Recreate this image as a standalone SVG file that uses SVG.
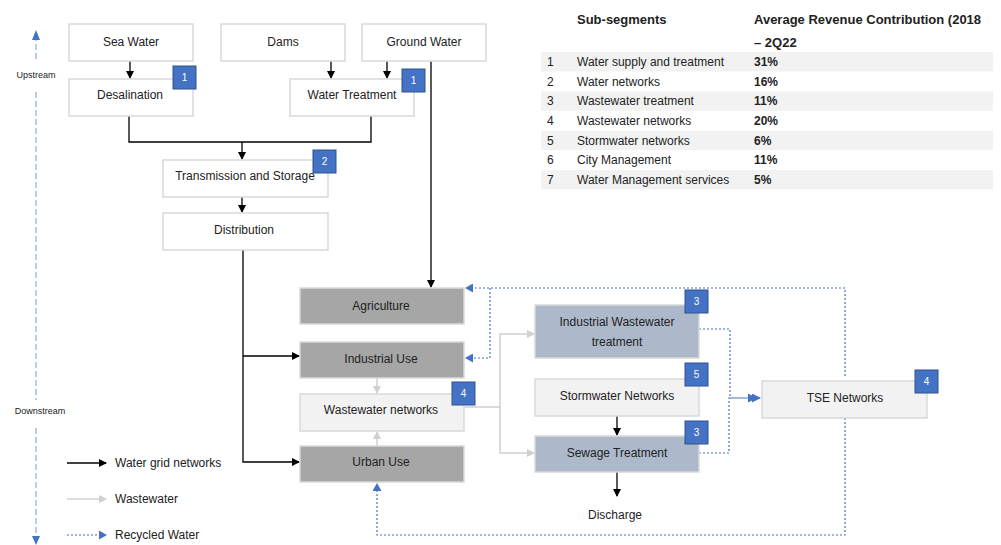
<svg xmlns="http://www.w3.org/2000/svg" width="1001" height="545" viewBox="0 0 1001 545">
<defs>
<marker id="ab" markerWidth="8" markerHeight="8" refX="7" refY="4" orient="auto" markerUnits="userSpaceOnUse"><path d="M0,0 L8,4 L0,8 Z" fill="#000"/></marker>
<marker id="ag" markerWidth="8" markerHeight="8" refX="7" refY="4" orient="auto" markerUnits="userSpaceOnUse"><path d="M0,0 L8,4 L0,8 Z" fill="#d0d0d0"/></marker>
<marker id="al" markerWidth="9" markerHeight="9" refX="8" refY="4.5" orient="auto" markerUnits="userSpaceOnUse"><path d="M0,0 L9,4.5 L0,9 Z" fill="#4472c4"/></marker>
<marker id="aa" markerWidth="8" markerHeight="9" refX="7" refY="4.5" orient="auto" markerUnits="userSpaceOnUse"><path d="M0,0 L8,4.5 L0,9 Z" fill="#4472c4"/></marker>
</defs>
<style>
text{font-family:"Liberation Sans",Arial,sans-serif;font-size:12px;fill:#222}
.c{text-anchor:middle}
.b{font-weight:bold}
.w rect{fill:#fff;stroke:#d9d9d9;stroke-width:1.5}
.d rect{fill:#a6a6a6;stroke:#d9d9d9;stroke-width:1.5}
.l rect{fill:#f2f2f2;stroke:#d9d9d9;stroke-width:1.5}
.s rect{fill:#adb9ca;stroke:#d9d9d9;stroke-width:1.5}
.badge rect{fill:#4472c4;stroke:#2f528f;stroke-width:1}
.badge text{fill:#fff;font-size:10px;text-anchor:middle}
.k{fill:none;stroke:#000;stroke-width:1.3}
.g{fill:none;stroke:#d0d0d0;stroke-width:1.5}
.r{fill:none;stroke:#4472c4;stroke-width:1.2;stroke-dasharray:2 2}
.band{fill:#f2f2f2}
</style>

<!-- axis -->
<g id="axis">
<path d="M36,35 V62" fill="none" stroke="#8faadc" stroke-width="1.2" stroke-dasharray="6 3"/>
<path d="M36,30 L32,40 L40,40 Z" fill="#4472c4"/>
<text x="36" y="78" class="c" style="font-size:9px">Upstream</text>
<path d="M36,92 V400" fill="none" stroke="#8faadc" stroke-width="1.2" stroke-dasharray="6 3"/>
<text x="40" y="414" class="c" style="font-size:9px">Downstream</text>
<path d="M36,428 V537" fill="none" stroke="#8faadc" stroke-width="1.2" stroke-dasharray="6 3"/>
<path d="M36,545 L32,536 L40,536 Z" fill="#4472c4"/>
</g>

<!-- table -->
<g id="table">
<text x="577" y="24" class="b" style="font-size:13px">Sub-segments</text>
<text x="754" y="24" class="b" style="font-size:13px">Average Revenue Contribution (2018</text>
<text x="754" y="47" class="b" style="font-size:13px">– 2Q22</text>
<rect class="band" x="541" y="52" width="452" height="19.5"/>
<rect class="band" x="541" y="91.3" width="452" height="19.5"/>
<rect class="band" x="541" y="130.6" width="452" height="19.5"/>
<rect class="band" x="541" y="170" width="452" height="19.5"/>
<g>
<text x="547" y="66">1</text><text x="577" y="66">Water supply and treatment</text><text x="754" y="66" class="b">31%</text>
<text x="547" y="86">2</text><text x="577" y="86">Water networks</text><text x="754" y="86" class="b">16%</text>
<text x="547" y="105">3</text><text x="577" y="105">Wastewater treatment</text><text x="754" y="105" class="b">11%</text>
<text x="547" y="125">4</text><text x="577" y="125">Wastewater networks</text><text x="754" y="125" class="b">20%</text>
<text x="547" y="145">5</text><text x="577" y="145">Stormwater networks</text><text x="754" y="145" class="b">6%</text>
<text x="547" y="164">6</text><text x="577" y="164">City Management</text><text x="754" y="164" class="b">11%</text>
<text x="547" y="184">7</text><text x="577" y="184">Water Management services</text><text x="754" y="184" class="b">5%</text>
</g>
</g>

<!-- connectors -->
<g id="connectors">
<path class="k" d="M130,61 V78" marker-end="url(#ab)"/>
<path class="k" d="M331,61 V78" marker-end="url(#ab)"/>
<path class="k" d="M387,61 V78" marker-end="url(#ab)"/>
<path class="k" d="M129,116 V142 H371 V116"/>
<path class="k" d="M242,142 V159" marker-end="url(#ab)"/>
<path class="k" d="M242,197 V212" marker-end="url(#ab)"/>
<path class="k" d="M243,250 V462 H299" marker-end="url(#ab)"/>
<path class="k" d="M243,356 H299" marker-end="url(#ab)"/>
<path class="k" d="M431,61 V287" marker-end="url(#ab)"/>
<path class="k" d="M617,416 V435" marker-end="url(#ab)"/>
<path class="k" d="M617,472 V496" marker-end="url(#ab)"/>
<path class="g" d="M377,378 V393" marker-end="url(#ag)"/>
<path class="g" d="M377,446 V432" marker-end="url(#ag)"/>
<path class="g" d="M464,407 H500 V334 H534" marker-end="url(#ag)"/>
<path class="g" d="M500,407 V453 H534" marker-end="url(#ag)"/>
<path class="r" d="M699,329 H730 V398 H760" marker-end="url(#al)"/>
<path class="r" d="M699,453 H729 V398 H756" marker-end="url(#al)"/>
<path class="r" d="M845,376 V288 H466" marker-end="url(#aa)"/>
<path class="r" d="M490,288 V358 H466" marker-end="url(#aa)"/>
<path class="r" d="M845,418 V535 H377 V484" marker-end="url(#aa)"/>
</g>

<!-- nodes -->
<g id="sea-water" class="w"><rect x="69" y="24" width="124" height="37"/><text x="131" y="46" class="c">Sea Water</text></g>
<g id="dams" class="w"><rect x="221" y="24" width="124" height="37"/><text x="283" y="46" class="c">Dams</text></g>
<g id="ground-water" class="w"><rect x="362" y="24" width="124" height="37"/><text x="424" y="46" class="c">Ground Water</text></g>
<g id="desalination" class="w"><rect x="69" y="79" width="124" height="37"/><text x="130" y="99" class="c">Desalination</text></g>
<g id="water-treatment" class="w"><rect x="290" y="79" width="124" height="37"/><text x="352" y="99" class="c">Water Treatment</text></g>
<g id="transmission" class="w"><rect x="163" y="160" width="165" height="37"/><text x="245" y="180" class="c">Transmission and Storage</text></g>
<g id="distribution" class="w"><rect x="163" y="213" width="165" height="37"/><text x="244" y="234" class="c">Distribution</text></g>
<g id="agriculture" class="d"><rect x="300" y="288" width="164" height="36"/><text x="381" y="310" class="c">Agriculture</text></g>
<g id="industrial-use" class="d"><rect x="300" y="342" width="164" height="36"/><text x="381" y="363" class="c">Industrial Use</text></g>
<g id="wastewater-networks" class="l"><rect x="300" y="394" width="164" height="37"/><text x="381" y="414" class="c">Wastewater networks</text></g>
<g id="urban-use" class="d"><rect x="300" y="446" width="164" height="36"/><text x="381" y="466" class="c">Urban Use</text></g>
<g id="industrial-wwt" class="s"><rect x="535" y="305" width="164" height="53"/><text x="617" y="326" class="c">Industrial Wastewater</text><text x="617" y="346" class="c">treatment</text></g>
<g id="stormwater" class="l"><rect x="535" y="379" width="164" height="37"/><text x="617" y="400" class="c">Stormwater Networks</text></g>
<g id="sewage" class="s"><rect x="535" y="436" width="164" height="36"/><text x="617" y="457" class="c">Sewage Treatment</text></g>
<g id="discharge"><text x="615" y="519" class="c">Discharge</text></g>
<g id="tse" class="l"><rect x="762" y="381" width="165" height="37"/><text x="845" y="402" class="c">TSE Networks</text></g>

<!-- badges -->
<g id="badge-desal" class="badge"><rect x="173" y="66" width="23" height="23"/><text x="184.5" y="81">1</text></g>
<g id="badge-wt" class="badge"><rect x="402" y="69" width="23" height="23"/><text x="413.5" y="84">1</text></g>
<g id="badge-ts" class="badge"><rect x="313" y="150" width="23" height="23"/><text x="324.5" y="165">2</text></g>
<g id="badge-wwn" class="badge"><rect x="452" y="382" width="23" height="23"/><text x="463.5" y="397">4</text></g>
<g id="badge-iwwt" class="badge"><rect x="685" y="290" width="23" height="23"/><text x="696.5" y="305">3</text></g>
<g id="badge-storm" class="badge"><rect x="685" y="363" width="23" height="23"/><text x="696.5" y="378">5</text></g>
<g id="badge-sew" class="badge"><rect x="685" y="421" width="23" height="23"/><text x="696.5" y="436">3</text></g>
<g id="badge-tse" class="badge"><rect x="915" y="370" width="23" height="23"/><text x="926.5" y="385">4</text></g>

<!-- legend -->
<g id="legend">
<path class="k" d="M67,463 H106" marker-end="url(#ab)"/>
<text x="115" y="467">Water grid networks</text>
<path class="g" d="M67,499 H106" marker-end="url(#ag)"/>
<text x="115" y="503">Wastewater</text>
<path class="r" d="M67,535 H106" marker-end="url(#aa)"/>
<text x="115" y="539">Recycled Water</text>
</g>
</svg>
